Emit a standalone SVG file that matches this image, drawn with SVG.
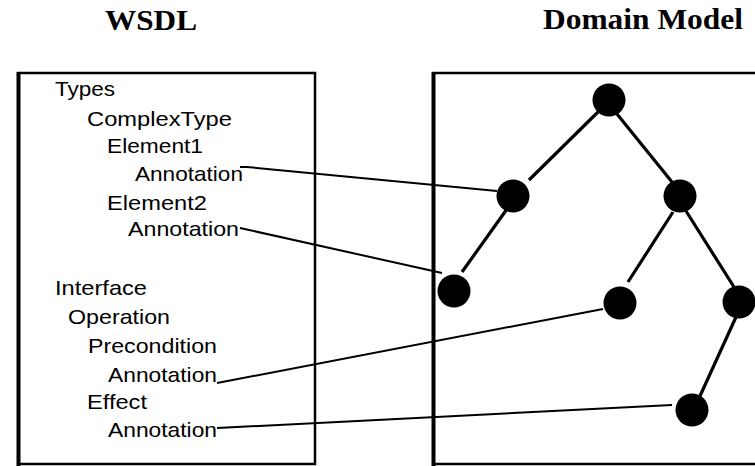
<svg xmlns="http://www.w3.org/2000/svg" width="755" height="466" viewBox="0 0 755 466">
  <style>
    .title { font-family: "Liberation Serif", "Times New Roman", serif; font-weight: bold; font-size: 30px; fill: #000; }
    .item { font-family: "Liberation Sans", Arial, sans-serif; font-size: 21px; fill: #000; }
    .frame { fill: none; stroke: #000; stroke-width: 2.5; }
    .frame-edge { stroke: #000; stroke-width: 4; }
    .branch { stroke: #000; stroke-width: 3.2; stroke-linecap: butt; }
    .link { fill: none; stroke: #000; stroke-width: 2; }
    .dot { fill: #000; }
  </style>

  <!-- headings -->
  <text class="title" x="105" y="30" textLength="92" lengthAdjust="spacingAndGlyphs">WSDL</text>
  <text class="title" x="543" y="29" textLength="200" lengthAdjust="spacingAndGlyphs">Domain Model</text>

  <!-- WSDL panel -->
  <g id="wsdl-panel">
    <rect class="frame" x="18.5" y="73" width="296.5" height="391"/>
    <line class="frame-edge" x1="18.5" y1="72" x2="18.5" y2="466"/>
    <text class="item" x="55" y="96" textLength="60" lengthAdjust="spacingAndGlyphs">Types</text>
    <text class="item" x="87" y="126" textLength="145" lengthAdjust="spacingAndGlyphs">ComplexType</text>
    <text class="item" x="107" y="153" textLength="96" lengthAdjust="spacingAndGlyphs">Element1</text>
    <text class="item" x="135" y="181" textLength="108" lengthAdjust="spacingAndGlyphs">Annotation</text>
    <text class="item" x="107" y="210" textLength="100" lengthAdjust="spacingAndGlyphs">Element2</text>
    <text class="item" x="128" y="236" textLength="111" lengthAdjust="spacingAndGlyphs">Annotation</text>
    <text class="item" x="55" y="295" textLength="92" lengthAdjust="spacingAndGlyphs">Interface</text>
    <text class="item" x="68" y="324" textLength="102" lengthAdjust="spacingAndGlyphs">Operation</text>
    <text class="item" x="88" y="353" textLength="129" lengthAdjust="spacingAndGlyphs">Precondition</text>
    <text class="item" x="108" y="382" textLength="109" lengthAdjust="spacingAndGlyphs">Annotation</text>
    <text class="item" x="87" y="409" textLength="60" lengthAdjust="spacingAndGlyphs">Effect</text>
    <text class="item" x="108" y="437" textLength="109" lengthAdjust="spacingAndGlyphs">Annotation</text>
  </g>

  <!-- domain model panel (open to the right) -->
  <g id="domain-panel">
    <polyline class="frame" points="757,73 433.5,73 433.5,464 757,464"/>
    <line class="frame-edge" x1="433.5" y1="72" x2="433.5" y2="466"/>
  </g>

  <!-- tree branches -->
  <g id="tree-branches">
    <line class="branch" x1="598" y1="112" x2="529" y2="180"/>
    <line class="branch" x1="617" y1="114" x2="672" y2="182"/>
    <line class="branch" x1="507" y1="209" x2="462" y2="272"/>
    <line class="branch" x1="673" y1="212" x2="628" y2="282"/>
    <line class="branch" x1="686" y1="211" x2="734" y2="287"/>
    <line class="branch" x1="736" y1="317" x2="700" y2="396"/>
  </g>

  <!-- tree nodes -->
  <g id="node-root"><circle class="dot" cx="609" cy="100" r="16.5"/></g>
  <g id="node-a"><circle class="dot" cx="513" cy="196" r="16.5"/></g>
  <g id="node-b"><circle class="dot" cx="680" cy="196" r="16.5"/></g>
  <g id="node-a1"><circle class="dot" cx="454" cy="291" r="16.5"/></g>
  <g id="node-b1"><circle class="dot" cx="620" cy="303" r="16.5"/></g>
  <g id="node-b2"><circle class="dot" cx="739" cy="302" r="16.5"/></g>
  <g id="node-b2a"><circle class="dot" cx="692" cy="410" r="16.5"/></g>

  <!-- annotation links -->
  <g id="connectors">
    <polyline class="link" points="240,167 247,167 497,191"/>
    <polyline class="link" points="240,228 442,273"/>
    <polyline class="link" points="217,383 603,309"/>
    <polyline class="link" points="217,428 672,405"/>
  </g>
</svg>
